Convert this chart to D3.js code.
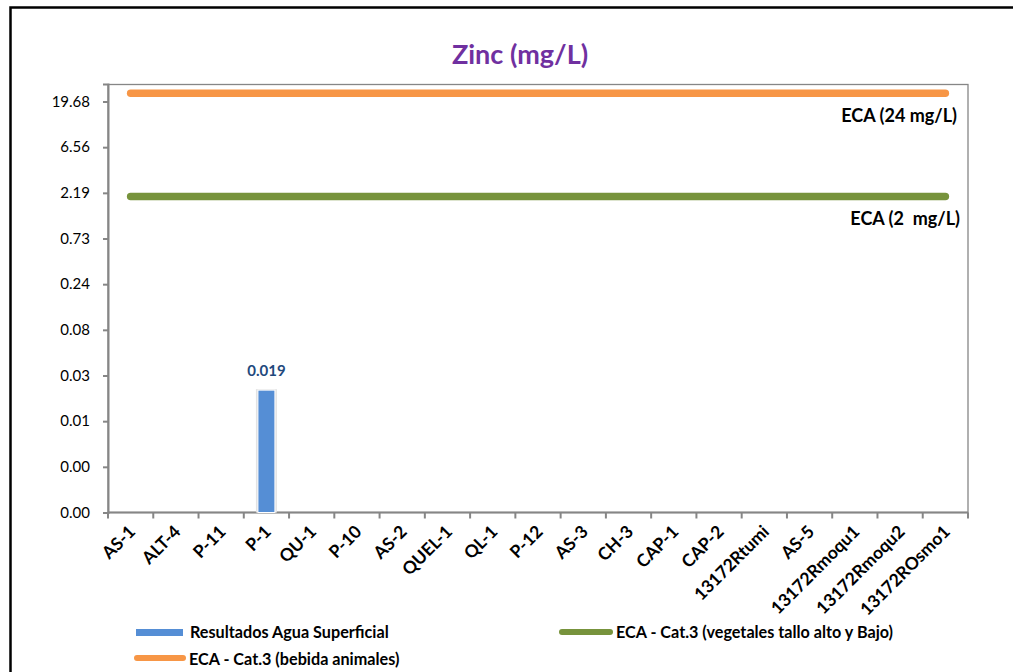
<!DOCTYPE html>
<html>
<head>
<meta charset="utf-8">
<script src="https://cdn.jsdelivr.net/npm/d3@7"></script>
<style>
  html, body { margin: 0; padding: 0; background: #fff; }
  svg { display: block; font-family: Lato, "Open Sans", sans-serif; }
</style>
</head>
<body>
<svg id="chart" width="1013" height="672"></svg>
<script>
// Sampling stations along the x axis
const categories = ["AS-1", "ALT-4", "P-11", "P-1", "QU-1", "P-10", "AS-2", "QUEL-1", "QL-1",
  "P-12", "AS-3", "CH-3", "CAP-1", "CAP-2", "13172Rtumi", "AS-5", "13172Rmoqu1",
  "13172Rmoqu2", "13172ROsmo1"];

// Measured zinc in surface water (mg/L); null = no bar shown
const resultados = [null, null, null, 0.019, null, null, null, null, null,
  null, null, null, null, null, null, null, null, null, null];

// Water quality standards (ECA, Cat.3)
const ecaBebidaAnimales = 24;   // bebida animales
const ecaVegetales = 2;         // vegetales tallo alto y bajo

// Log-3 axis tick values and their printed labels
const yTicks = [0.001, 0.003, 0.009, 0.027, 0.081, 0.243, 0.729, 2.187, 6.561, 19.683];
const yTickLabels = ["0.00", "0.00", "0.01", "0.03", "0.08", "0.24", "0.73", "2.19", "6.56", "19.68"];
const yDomain = [0.001, 30];

const svg = d3.select("#chart");
const W = 1013, H = 672;
const plot = { left: 108, top: 84, right: 968, bottom: 512.5 };

const axisColor = "#868686";
const colBar = "#558ED5";
const colOrange = "#F79646";
const colGreen = "#77933C";

// Outer chart frame
svg.append("rect")
  .attr("x", 10.5).attr("y", 7.5)
  .attr("width", W + 20).attr("height", H + 20)
  .attr("fill", "#fff").attr("stroke", "#000").attr("stroke-width", 2.5);

// Title
svg.append("text")
  .attr("x", 520).attr("y", 63.5)
  .attr("text-anchor", "middle")
  .attr("font-size", 27).attr("font-weight", 700)
  .attr("fill", "#7030A0")
  .text("Zinc (mg/L)");

const x = d3.scaleBand().domain(categories).range([plot.left, plot.right]).padding(0);
const y = d3.scaleLog().base(3).domain(yDomain).range([plot.bottom, plot.top]);

// Plot area frame
svg.append("rect")
  .attr("x", plot.left).attr("y", plot.top + 0.5)
  .attr("width", plot.right - plot.left).attr("height", plot.bottom - plot.top - 0.5)
  .attr("fill", "none").attr("stroke", axisColor).attr("stroke-width", 1.3);

// Y axis
const yAxis = d3.axisLeft(y)
  .tickValues(yTicks)
  .tickFormat((d, i) => yTickLabels[i])
  .tickSize(5).tickPadding(13);
const gy = svg.append("g").attr("transform", `translate(${plot.left},0)`).call(yAxis);
gy.select(".domain").attr("stroke", axisColor).attr("stroke-width", 2);
gy.selectAll(".tick line").attr("stroke", axisColor).attr("stroke-width", 2);
gy.selectAll(".tick text").attr("font-size", 15).attr("fill", "#000")
  .attr("font-family", "Lato, sans-serif");

// X axis: ticks at category boundaries
const gx = svg.append("g").attr("transform", `translate(0,${plot.bottom})`);
gx.append("line")
  .attr("x1", plot.left).attr("x2", plot.right)
  .attr("stroke", axisColor).attr("stroke-width", 2);
const boundaries = categories.map(c => x(c)).concat([plot.right]);
gx.selectAll("line.tk").data(boundaries).join("line").attr("class", "tk")
  .attr("x1", d => d).attr("x2", d => d).attr("y1", 0).attr("y2", 6)
  .attr("stroke", axisColor).attr("stroke-width", 2);
gx.selectAll("text").data(categories).join("text")
  .attr("transform", d => `translate(${x(d) + x.bandwidth() / 2 + 1.5},${16}) rotate(-45)`)
  .attr("text-anchor", "end")
  .attr("dy", "0.35em")
  .attr("font-size", 17.5).attr("font-weight", 700).attr("fill", "#000")
  .text(d => d);

// Bars
const barW = 17;
const barData = categories.map((c, i) => ({ c, v: resultados[i] })).filter(d => d.v != null);
svg.selectAll("rect.shadow").data(barData).join("rect").attr("class", "shadow")
  .attr("x", d => x(d.c) + x.bandwidth() / 2 - barW / 2 - 2)
  .attr("y", d => y(d.v) - 1)
  .attr("width", barW + 4)
  .attr("height", d => plot.bottom - y(d.v) + 1)
  .attr("fill", "#e3e3e3");
svg.selectAll("rect.bar").data(barData).join("rect").attr("class", "bar")
  .attr("x", d => x(d.c) + x.bandwidth() / 2 - barW / 2)
  .attr("y", d => y(d.v))
  .attr("width", barW)
  .attr("height", d => plot.bottom - y(d.v))
  .attr("fill", colBar).attr("stroke", "#fff").attr("stroke-width", 1);
svg.selectAll("text.barlabel").data(barData).join("text").attr("class", "barlabel")
  .attr("x", d => x(d.c) + x.bandwidth() / 2)
  .attr("y", d => y(d.v) - 14)
  .attr("text-anchor", "middle")
  .attr("font-size", 15).attr("font-weight", 700).attr("fill", "#1F497D")
  .text(d => d.v.toFixed(3));

// Standard lines spanning first to last category centres
const xFirst = x(categories[0]) + x.bandwidth() / 2;
const xLast = x(categories[categories.length - 1]) + x.bandwidth() / 2;
const lines = [
  { v: ecaBebidaAnimales, color: colOrange, label: "ECA (24 mg/L)", lx: 957 },
  { v: ecaVegetales, color: colGreen, label: "ECA (2  mg/L)", lx: 960 }
];
svg.selectAll("line.eca").data(lines).join("line").attr("class", "eca")
  .attr("x1", xFirst).attr("x2", xLast)
  .attr("y1", d => y(d.v)).attr("y2", d => y(d.v))
  .attr("stroke", d => d.color).attr("stroke-width", 7.5).attr("stroke-linecap", "round");
svg.selectAll("text.eca").data(lines).join("text").attr("class", "eca")
  .attr("x", d => d.lx).attr("y", d => y(d.v) + 28.8)
  .attr("text-anchor", "end")
  .attr("font-size", 18).attr("font-weight", 700).attr("fill", "#000")
  .style("white-space", "pre")
  .text(d => d.label);

// Legend
const legend = svg.append("g").attr("font-size", 16.2).attr("font-weight", 700);
legend.append("rect").attr("x", 136).attr("y", 629).attr("width", 47).attr("height", 7).attr("fill", colBar);
legend.append("text").attr("x", 190).attr("y", 638).text("Resultados Agua Superficial");
legend.append("line").attr("x1", 137).attr("x2", 183).attr("y1", 658).attr("y2", 658)
  .attr("stroke", colOrange).attr("stroke-width", 6).attr("stroke-linecap", "round");
legend.append("text").attr("x", 189).attr("y", 664.5).text("ECA - Cat.3 (bebida animales)");
legend.append("line").attr("x1", 562).attr("x2", 610).attr("y1", 632).attr("y2", 632)
  .attr("stroke", colGreen).attr("stroke-width", 6).attr("stroke-linecap", "round");
legend.append("text").attr("x", 616).attr("y", 637.5).text("ECA - Cat.3 (vegetales tallo alto y Bajo)");
</script>
</body>
</html>
